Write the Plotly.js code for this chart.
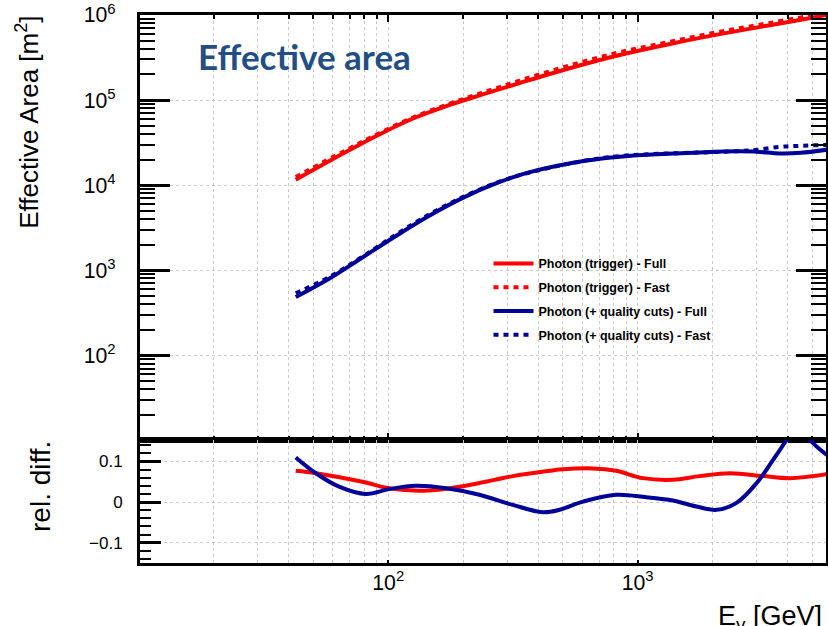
<!DOCTYPE html>
<html>
<head>
<meta charset="utf-8">
<script src="https://cdn.plot.ly/plotly-3.0.1.min.js"></script>
<style>html,body{margin:0;padding:0;background:#fff;}</style>
</head>
<body>
<div id="chart" style="width:828px;height:626px;"></div>
<script>
// ---- data ----
const E_red_full = [42.6, 67.6, 92.1, 125, 171, 232, 336, 533, 847, 1346, 2133, 3390, 5380, 5700];
const A_red_full = [1.16e4, 2.45e4, 3.94e4, 6.03e4, 8.5e4, 1.135e5, 1.585e5, 2.37e5, 3.39e5, 4.57e5, 5.96e5, 7.59e5, 9.66e5, 1.0e6];
const E_red_fast = [42.6, 67.6, 92.1, 125, 171, 232, 336, 533, 847, 1346, 2133, 3390, 5380, 5700];
const A_red_fast = [1.25e4, 2.57e4, 4.08e4, 6.2e4, 8.78e4, 1.188e5, 1.69e5, 2.55e5, 3.65e5, 4.83e5, 6.36e5, 8.06e5, 1.03e6, 1.065e6];

const E_blue_full = [42.6, 57.9, 78.8, 107, 146, 199, 270, 366, 624, 847, 1148, 2500, 3000, 3720, 4500, 5700];
const A_blue_full = [484, 794, 1413, 2512, 4365, 7080, 1.047e4, 1.413e4, 1.95e4, 2.16e4, 2.29e4, 2.51e4, 2.47e4, 2.36e4, 2.4e4, 2.6e4];
const E_blue_fast = [42.6, 57.9, 78.8, 107, 146, 199, 270, 366, 624, 847, 1148, 2500, 3000, 3720, 4500, 5700];
const A_blue_fast = [537, 830, 1441, 2600, 4520, 7230, 1.06e4, 1.40e4, 1.955e4, 2.2e4, 2.32e4, 2.505e4, 2.6e4, 2.82e4, 2.9e4, 2.97e4];

const E_rd_red = [42.6, 51.3, 78.8, 101, 133, 171, 232, 316, 443, 486, 661, 820, 1050, 1384, 1774, 2340, 3190, 4075, 5730];
const rd_red   = [0.077, 0.071, 0.050, 0.034, 0.028, 0.033, 0.047, 0.064, 0.077, 0.080, 0.083, 0.077, 0.059, 0.055, 0.064, 0.071, 0.064, 0.059, 0.069];
const E_rd_blue = [42.6, 51.3, 63.5, 81.3, 101, 129, 171, 232, 316, 417, 486, 603, 820, 1083, 1384, 1721, 2070, 2490, 3000, 3490, 3950, 4390, 4910, 5730];
const rd_blue   = [0.110, 0.071, 0.038, 0.020, 0.032, 0.040, 0.034, 0.018, -0.007, -0.025, -0.019, 0.001, 0.018, 0.012, 0.004, -0.011, -0.019, -0.002, 0.047, 0.104, 0.153, 0.20, 0.153, 0.116];

const names = ['Photon (trigger) - Full', 'Photon (trigger) - Fast', 'Photon (+ quality cuts) - Full', 'Photon (+ quality cuts) - Fast'];
const RED = '#ff0000', BLUE = '#000099';
const DASH = '5px,5px';

const traces = [
  {x: E_red_full, y: A_red_full, name: names[0], legendgroup: 'a', line: {color: RED, width: 4, shape: 'spline'}},
  {x: E_red_fast, y: A_red_fast, name: names[1], legendgroup: 'b', line: {color: RED, width: 4, dash: DASH, shape: 'spline'}},
  {x: E_blue_full, y: A_blue_full, name: names[2], legendgroup: 'c', line: {color: BLUE, width: 4, shape: 'spline'}},
  {x: E_blue_fast, y: A_blue_fast, name: names[3], legendgroup: 'd', line: {color: BLUE, width: 4, dash: DASH, shape: 'spline'}},
  {x: E_rd_red, y: rd_red, xaxis: 'x2', yaxis: 'y2', showlegend: false, line: {color: RED, width: 4, shape: 'spline'}},
  {x: E_rd_blue, y: rd_blue, xaxis: 'x2', yaxis: 'y2', showlegend: false, line: {color: BLUE, width: 4, shape: 'spline'}}
].map(t => Object.assign({type: 'scatter', mode: 'lines', hoverinfo: 'skip'}, t));

const GRID = '#c8c8c8';
const FONT = 'Liberation Sans, Arial, Helvetica, sans-serif';
const XR = [1.005, 3.755];

const layout = {
  width: 828, height: 626,
  margin: {l: 140, r: 2, t: 15, b: 63, pad: 0},
  paper_bgcolor: '#ffffff', plot_bgcolor: '#ffffff',
  font: {family: FONT, color: '#000000'},
  showlegend: true,
  legend: {
    x: 0.508, xanchor: 'left', y: 0.573, yanchor: 'top',
    bgcolor: 'rgba(0,0,0,0)', borderwidth: 0,
    font: {family: FONT, size: 12.5, color: '#000', weight: 'bold'},
    traceorder: 'grouped', tracegroupgap: 4.5, itemwidth: 40
  },
  xaxis: {
    type: 'log', range: XR, domain: [0, 1], anchor: 'y', dtick: 1,
    showticklabels: false, ticks: 'inside', ticklen: 7, tickwidth: 2, tickcolor: '#000',
    showline: true, linewidth: 3, linecolor: '#000', mirror: 'ticks',
    showgrid: true, gridcolor: GRID, griddash: 'dot', gridwidth: 1, zeroline: false,
    minor: {dtick: 'D1', ticks: 'inside', ticklen: 4, tickwidth: 2, tickcolor: '#000', showgrid: true, gridcolor: GRID, griddash: 'dot', gridwidth: 1}
  },
  yaxis: {
    type: 'log', range: [1.005, 6], domain: [0.2245, 1], anchor: 'x', dtick: 1, exponentformat: 'power',
    ticks: 'inside', ticklen: 30, tickwidth: 3, tickcolor: '#000',
    tickfont: {family: FONT, size: 17}, ticklabelstandoff: 18,
    showline: true, linewidth: 3, linecolor: '#000', mirror: 'ticks',
    showgrid: true, gridcolor: GRID, griddash: 'dot', gridwidth: 1, zeroline: false,
    minor: {dtick: 'D1', ticks: 'inside', ticklen: 15, tickwidth: 2, tickcolor: '#000', showgrid: false}
  },
  xaxis2: {
    type: 'log', range: XR, domain: [0, 1], anchor: 'y2', dtick: 1, exponentformat: 'power',
    ticks: 'inside', ticklen: 3, tickwidth: 2, tickcolor: '#000',
    tickfont: {family: FONT, size: 17}, ticklabelstandoff: -1,
    showline: true, linewidth: 3, linecolor: '#000', mirror: true,
    showgrid: true, gridcolor: GRID, griddash: 'dot', gridwidth: 1, zeroline: false,
    minor: {dtick: 'D1', ticks: '', showgrid: true, gridcolor: GRID, griddash: 'dot', gridwidth: 1}
  },
  yaxis2: {
    range: [-0.15, 0.153], domain: [0, 0.2245], anchor: 'x2', tick0: 0, dtick: 0.1,
    ticks: 'inside', ticklen: 21, tickwidth: 3, tickcolor: '#000',
    tickfont: {family: FONT, size: 17}, ticklabelstandoff: 11,
    showline: true, linewidth: 3, linecolor: '#000', mirror: true,
    showgrid: true, gridcolor: GRID, griddash: 'dot', gridwidth: 1, zeroline: false,
    minor: {tick0: 0, dtick: 0.02, ticks: 'inside', ticklen: 11, tickwidth: 2, tickcolor: '#000', showgrid: false}
  },
  annotations: [
    {text: 'Effective area', xref: 'paper', yref: 'paper', x: 0.2405, y: 0.925, xanchor: 'center', yanchor: 'middle',
     showarrow: false, font: {family: 'Lato, Noto Sans, sans-serif', size: 35, color: '#234e84', weight: 'bold'}},
    {text: 'Effective Area [m<sup>2</sup>]', xref: 'paper', yref: 'paper', x: -0.1633, y: 0.805, xanchor: 'center', yanchor: 'middle',
     textangle: -90, showarrow: false, font: {family: FONT, size: 26}},
    {text: 'rel. diff.', xref: 'paper', yref: 'paper', x: -0.1458, y: 0.1405, xanchor: 'center', yanchor: 'middle',
     textangle: -90, showarrow: false, font: {family: FONT, size: 28}},
    {text: 'E<sub>γ</sub> [GeV]', xref: 'paper', yref: 'paper', x: 0.997, y: -0.065, xanchor: 'right', yanchor: 'top',
     showarrow: false, font: {family: FONT, size: 27}}
  ]
};

Plotly.newPlot('chart', traces, layout, {displayModeBar: false, staticPlot: true});
</script>
</body>
</html>
